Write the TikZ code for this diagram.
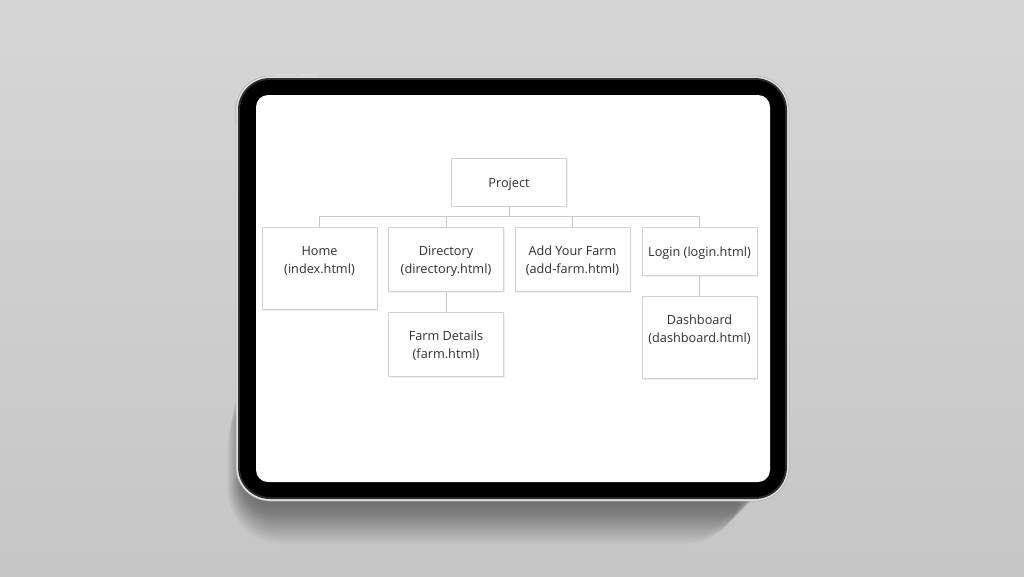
\documentclass[tikz,border=0pt]{standalone}
\usepackage{fontspec}
\setmainfont{Open Sans}
\usetikzlibrary{shadows}
\definecolor{bgtop}{HTML}{D6D6D6}
\definecolor{bgbot}{HTML}{C6C6C6}
\definecolor{silver}{HTML}{E2E2E2}
\definecolor{edge}{HTML}{A8A8A8}
\definecolor{ring}{HTML}{2C2C2C}
\definecolor{boxline}{HTML}{D2D2D2}
\definecolor{connline}{HTML}{C9C9C9}
\definecolor{txt}{HTML}{303030}
\tikzset{
  box/.style={draw=boxline, line width=0.8pt, fill=white, minimum width=115pt, inner sep=0pt,
    drop shadow={opacity=0.12, shadow xshift=1pt, shadow yshift=-1.2pt}},
  lbl/.style={text=txt, align=center, inner sep=0pt, font=\fontsize{12.7}{18}\selectfont},
  conn/.style={draw=connline, line width=1pt},
}
\begin{document}
\begin{tikzpicture}[x=1pt, y=-1pt]
\useasboundingbox (0,0) rectangle (1024,576);
% background
\shade[top color=bgtop, bottom color=bgbot] (0,0) rectangle (1024,576);
% soft shadow under tablet
\foreach \i in {1,...,60}{
  \fill[black, opacity=0.0085, rounded corners=20pt+\i*0.6pt] (248-\i*0.35, 320+\i*1.2) rectangle (770-\i*0.5, 494+\i*0.85);
}
% buttons
\fill[silver, rounded corners=0.8pt] (275,74.5) rectangle (296,78);
\fill[silver, rounded corners=0.8pt] (299,74.5) rectangle (318,78);
\fill[silver!90!black, rounded corners=0.8pt] (234.3,101) rectangle (237,124);
% tablet body
\filldraw[fill=silver, draw=edge, line width=0.5pt, rounded corners=34pt] (236,76) rectangle (789,501);
\fill[ring, rounded corners=32pt] (238,78) rectangle (787,499);
\fill[black, rounded corners=30pt] (240,80) rectangle (785,497);
\fill[white, rounded corners=12pt] (256,95) rectangle (770,482);

% boxes
\node[box, minimum height=48pt] (project) at (509,182) {};
\node[box, minimum height=82pt, anchor=north] (home) at (319.5,227) {};
\node[box, minimum height=64pt, anchor=north] (dir) at (446,227) {};
\node[box, minimum height=64pt, anchor=north] (add) at (572.5,227) {};
\node[box, minimum height=48pt, anchor=north] (login) at (699.5,227) {};
\node[box, minimum height=64pt, anchor=north] (farm) at (446,312) {};
\node[box, minimum height=82pt, anchor=north] (dash) at (699.5,296) {};

% labels
\node[lbl] (projectt) at (509,184) {Project};
\node[lbl] (homet) at (319.5,261) {Home\\(index.html)};
\node[lbl] (dirt) at (446,261) {Directory\\(directory.html)};
\node[lbl] (addt) at (572.5,261) {Add Your Farm\\(add-farm.html)};
\node[lbl] (logint) at (699.5,253) {Login (login.html)};
\node[lbl] (farmt) at (446,346) {Farm Details\\(farm.html)};
\node[lbl] (dasht) at (699.5,330) {Dashboard\\(dashboard.html)};

% connectors
\coordinate (bus) at (509,216.5);
\draw[conn] (project.south) -- (bus);
\draw[conn] (home.north) |- (bus);
\draw[conn] (dir.north) |- (bus);
\draw[conn] (add.north) |- (bus);
\draw[conn] (login.north) |- (bus);
\draw[conn] (dir.south) -- (farm.north);
\draw[conn] (login.south) -- (dash.north);
\end{tikzpicture}
\end{document}
